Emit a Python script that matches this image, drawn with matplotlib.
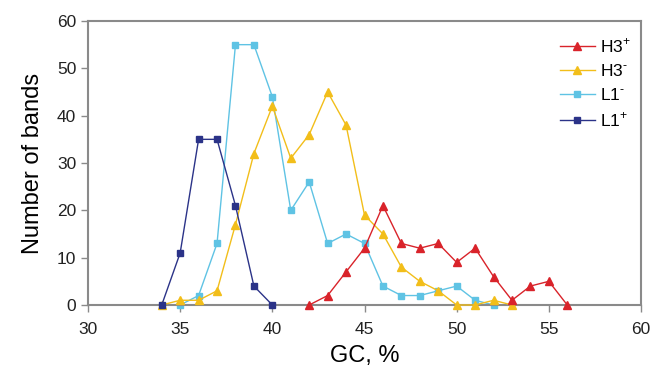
import matplotlib
matplotlib.use('Agg')
import matplotlib.pyplot as plt

plt.rcParams['font.family'] = ['Liberation Sans', 'DejaVu Sans']
plt.rcParams['mathtext.fontset'] = 'custom'
plt.rcParams['mathtext.rm'] = 'Liberation Sans'

# GC content (%) and number of bands per series
h3_plus_x = [42, 43, 44, 45, 46, 47, 48, 49, 50, 51, 52, 53, 54, 55, 56]
h3_plus_y = [0, 2, 7, 12, 21, 13, 12, 13, 9, 12, 6, 1, 4, 5, 0]

h3_minus_x = [34, 35, 36, 37, 38, 39, 40, 41, 42, 43, 44, 45, 46, 47, 48, 49,
              50, 51, 52, 53]
h3_minus_y = [0, 1, 1, 3, 17, 32, 42, 31, 36, 45, 38, 19, 15, 8, 5, 3,
              0, 0, 1, 0]

l1_minus_x = [35, 36, 37, 38, 39, 40, 41, 42, 43, 44, 45, 46, 47, 48, 49, 50,
              51, 52]
l1_minus_y = [0, 2, 13, 55, 55, 44, 20, 26, 13, 15, 13, 4, 2, 2, 3, 4, 1, 0]

l1_plus_x = [34, 35, 36, 37, 38, 39, 40]
l1_plus_y = [0, 11, 35, 35, 21, 4, 0]

labels = ['H3$^{\\mathrm{+}}$', 'H3$^{\\text{-}}$', 'L1$^{\\text{-}}$',
          'L1$^{\\mathrm{+}}$']

fig = plt.figure(figsize=(6.6, 3.77), dpi=100)
ax = fig.add_axes([88 / 660, 1 - 305 / 377, (641 - 88) / 660, (305 - 21) / 377])

ax.plot(h3_plus_x, h3_plus_y, color='#d9232a', marker='^', ms=5.5, lw=1,
        label=labels[0], clip_on=False, zorder=4)
ax.plot(h3_minus_x, h3_minus_y, color='#f2be1a', marker='^', ms=5.5, lw=1,
        label=labels[1], clip_on=False, zorder=3)
ax.plot(l1_minus_x, l1_minus_y, color='#5fc3e4', marker='s', ms=4.5, lw=1,
        label=labels[2], clip_on=False, zorder=2)
ax.plot(l1_plus_x, l1_plus_y, color='#2b3388', marker='s', ms=4.5, lw=1,
        label=labels[3], clip_on=False, zorder=5)

ax.set_xlim(30, 60)
ax.set_ylim(0, 60)
ax.set_xticks(range(30, 61, 5))
ax.set_yticks(range(0, 61, 10))
for s in ax.spines.values():
  s.set_color('#8a8a8a')
  s.set_linewidth(1.5)
ax.tick_params(colors='#8a8a8a', labelcolor='#222222', labelsize=12.5,
               length=5, width=1)
ax.tick_params(axis='x', pad=7)
ax.set_xlabel('GC, %', fontsize=17, labelpad=6)
ax.set_ylabel('Number of bands', fontsize=17, labelpad=9)

leg = ax.legend(loc='upper right', frameon=False, fontsize=12.5,
                handlelength=2.0, labelspacing=0.45, handletextpad=0.3,
                borderaxespad=0.5, bbox_to_anchor=(1.01, 1.0))

fig.savefig('out.png', dpi=100)
